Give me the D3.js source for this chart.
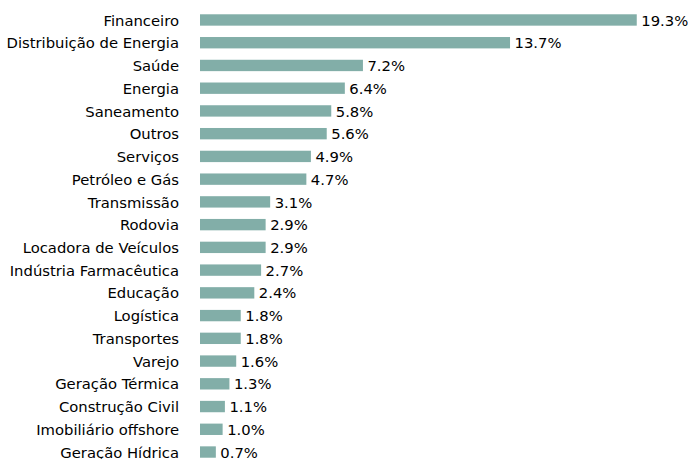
<html lang="pt">
  <head>
    <title>setores</title>
    <script src="https://d3js.org/d3.v7.min.js"></script>
    <style>
      body { margin: 0; background: #fff; }
      svg text { font-family: "DejaVu Sans", sans-serif; font-size: 14.8px; fill: #000; }
    </style>
  </head>
  <body>
    <svg id="chart" width="688" height="459"></svg>
    <script>
      const sectors = [
        'Financeiro', 'Distribuição de Energia', 'Saúde', 'Energia', 'Saneamento',
        'Outros', 'Serviços', 'Petróleo e Gás', 'Transmissão', 'Rodovia',
        'Locadora de Veículos', 'Indústria Farmacêutica', 'Educação', 'Logística', 'Transportes',
        'Varejo', 'Geração Térmica', 'Construção Civil', 'Imobiliário offshore', 'Geração Hídrica'
      ]
      const shares = [19.3, 13.7, 7.2, 6.4, 5.8, 5.6, 4.9, 4.7, 3.1, 2.9, 2.9, 2.7, 2.4, 1.8, 1.8, 1.6, 1.3, 1.1, 1.0, 0.7]

      const svg = d3.select('#chart')

      const x = d3.scaleLinear().domain([0, 20]).range([200, 652.6])
      const y = d3.scaleBand()
        .domain(sectors)
        .range([8.6, 463.4])
        .paddingInner(0.5)
        .paddingOuter(0.25)

      const rows = sectors.map((s, i) => ({ name: s, value: shares[i] }))

      svg.append('g')
        .selectAll('rect')
        .data(rows)
        .join('rect')
        .attr('x', x(0))
        .attr('y', d => y(d.name))
        .attr('width', d => x(d.value) - x(0))
        .attr('height', y.bandwidth())
        .attr('fill', '#82aea8')

      svg.append('g')
        .selectAll('text')
        .data(rows)
        .join('text')
        .attr('x', d => x(d.value) + 4.5)
        .attr('y', d => y(d.name) + y.bandwidth() / 2)
        .attr('dy', '0.38em')
        .text(d => d.value.toFixed(1) + '%')

      // category labels (no axis line in the original)
      const yAxis = svg.append('g')
        .attr('transform', `translate(${x(0)},0)`)
        .call(d3.axisLeft(y).tickSize(0).tickPadding(21))
      yAxis.select('.domain').remove()
      yAxis.selectAll('text').attr('dy', '0.38em')
    </script>
  </body>
</html>
